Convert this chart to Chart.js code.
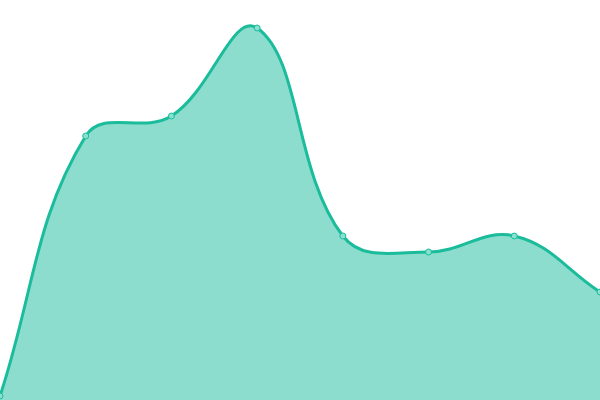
<!DOCTYPE html>
<html lang="en">
<head>
    <meta charset="UTF-8">
    <title>Area Chart</title>
    <script src="https://cdn.jsdelivr.net/npm/chart.js"></script>
    <style>
        html, body { margin: 0; padding: 0; background: #fff; }
        #wrap { width: 600px; height: 400px; }
    </style>
</head>
<body>
    <div id="wrap"><canvas id="areaChart"></canvas></div>
    <script>
        // values (axis hidden, 0..100)
        const labels = ['1', '2', '3', '4', '5', '6', '7', '8'];
        const values = [1, 66, 71, 93, 41, 37, 41, 27];

        const ctx = document.getElementById('areaChart').getContext('2d');
        new Chart(ctx, {
            type: 'line',
            data: {
                labels: labels,
                datasets: [{
                    data: values,
                    borderColor: '#1abc9c',
                    backgroundColor: 'rgba(26, 188, 156, 0.5)',
                    borderWidth: 3,
                    fill: 'origin',
                    tension: 0.4,
                    pointRadius: 3,
                    pointBorderWidth: 1,
                    pointBackgroundColor: '#8ae0cf',
                    pointBorderColor: '#1abc9c'
                }]
            },
            options: {
                responsive: true,
                maintainAspectRatio: false,
                animation: false,
                layout: { padding: 0, autoPadding: false },
                scales: {
                    x: { display: false, offset: false },
                    y: { display: false, min: 0, max: 100 }
                },
                plugins: {
                    legend: { display: false },
                    tooltip: { enabled: false }
                }
            }
        });
    </script>
</body>
</html>
